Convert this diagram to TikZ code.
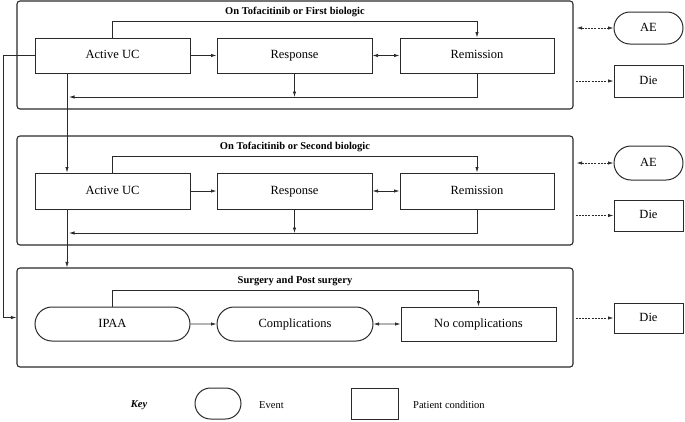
\documentclass[tikz,border=0pt]{standalone}
\usepackage{fontspec}
\setmainfont{Liberation Serif}
\usetikzlibrary{arrows.meta,shapes.misc}
\definecolor{ln}{HTML}{2a2a2a}
\tikzset{
  frame/.style={draw=ln,line width=1.1pt,rounded corners=3pt,inner sep=0pt},
  cond/.style={draw=ln,line width=1pt,inner sep=0pt,text height=8.8pt,text depth=2.8pt,font=\fontsize{12.5}{14}\selectfont},
  pill/.style={draw=ln,line width=1pt,rounded rectangle,rounded rectangle arc length=180,inner sep=0pt,text height=8.8pt,text depth=2.8pt,font=\fontsize{12.5}{14}\selectfont},
  ttl/.style={font=\fontsize{10.5}{12}\selectfont\bfseries,inner sep=0pt},
  tip/.style={-{Latex[length=5.5pt,width=3.4pt]}},
  ttip/.style={{Latex[length=5.5pt,width=3.4pt]}-{Latex[length=5.5pt,width=3.4pt]}},
  conn/.style={draw=ln,line width=0.75pt,tip},
  dconn/.style={conn,dash pattern=on 2pt off 1.2pt},
  keytxt/.style={font=\fontsize{10.5}{12}\selectfont,inner sep=0pt,anchor=west}
}
\begin{document}
\begin{tikzpicture}[x=1pt,y=-1pt]
\useasboundingbox (0,0) rectangle (685,421);
% frames
\node[frame,minimum width=556pt,minimum height=108pt] (box1) at (295,55) {};
\node[frame,minimum width=556pt,minimum height=109pt] (box2) at (295,190.5) {};
\node[frame,minimum width=556pt,minimum height=99pt] (box3) at (295,317.5) {};
\node[ttl] (t1) at (295,12) {On Tofacitinib or First biologic};
\node[ttl] (t2) at (295,147) {On Tofacitinib or Second biologic};
\node[ttl] (t3) at (295,281) {Surgery and Post surgery};
% row 1
\node[cond,minimum width=155pt,minimum height=35pt] (a1) at (112.5,55.5) {Active UC};
\node[cond,minimum width=155pt,minimum height=35pt] (r1) at (294.5,55.5) {Response};
\node[cond,minimum width=154pt,minimum height=35pt] (m1) at (477,55.5) {Remission};
% row 2
\node[cond,minimum width=155pt,minimum height=36pt] (a2) at (112.5,191) {Active UC};
\node[cond,minimum width=155pt,minimum height=36pt] (r2) at (294.5,191) {Response};
\node[cond,minimum width=154pt,minimum height=36pt] (m2) at (477,191) {Remission};
% row 3
\node[pill,minimum width=155pt,minimum height=34pt] (p3) at (112.5,324) {IPAA};
\node[pill,minimum width=156pt,minimum height=34pt] (c3) at (295,324) {Complications};
\node[cond,minimum width=155pt,minimum height=34pt] (n3) at (478.5,324) {No complications};
% side
\node[pill,minimum width=69pt,minimum height=32pt] (ae1) at (648.5,28) {AE};
\node[cond,minimum width=69pt,minimum height=32pt] (d1) at (648.5,81) {Die};
\node[pill,minimum width=69pt,minimum height=34pt] (ae2) at (648.5,163) {AE};
\node[cond,minimum width=69pt,minimum height=31pt] (d2) at (648.5,215.5) {Die};
\node[cond,minimum width=69pt,minimum height=30pt] (d3) at (648.5,318) {Die};
% coordinates
\coordinate (ret1) at (69,97);
\coordinate (ret2) at (69,233);
\coordinate (lft) at (3,317.5);
% row 1 connectors
\draw[conn] (a1.north) -- ++(0,-16) -| (m1.north);
\draw[conn] (a1) -- (r1);
\draw[conn,ttip] (r1) -- (m1);
\draw[conn] (r1.south) -- (r1.south |- ret1);
\draw[conn] (m1.south) |- (ret1);
\draw[conn] ([xshift=-45.5pt]a1.south) -- ([xshift=-45.5pt]a2.north);
\draw[conn] (a1.west) -| (lft) -- (box3.west);
% row 2 connectors
\draw[conn] (a2.north) -- ++(0,-16) -| (m2.north);
\draw[conn] (a2) -- (r2);
\draw[conn,ttip] (r2) -- (m2);
\draw[conn] (r2.south) -- (r2.south |- ret2);
\draw[conn] (m2.south) |- (ret2);
\draw[conn] ([xshift=-45.5pt]a2.south) -- ([xshift=-45.5pt]a2.south |- box3.north);
% row 3 connectors
\draw[conn] (p3.north) -- ++(0,-16) -| (n3.north);
\draw[conn] (p3) -- (c3);
\draw[conn,ttip] (c3) -- (n3);
% dashed side connectors
\draw[dconn,ttip,shorten <=3pt] (box1.east |- ae1.west) -- (ae1.west);
\draw[dconn,shorten <=2pt] (box1.east |- d1.west) -- (d1.west);
\draw[dconn,ttip,shorten <=3pt] (box2.east |- ae2.west) -- (ae2.west);
\draw[dconn,shorten <=2pt] (box2.east |- d2.west) -- (d2.west);
\draw[dconn,shorten <=2pt] (box3.east |- d3.west) -- (d3.west);
% key
\node[font=\fontsize{10.5}{12}\selectfont\bfseries\itshape,inner sep=0pt] (key) at (139,405) {Key};
\node[pill,minimum width=46pt,minimum height=31pt] (kev) at (218,403.5) {};
\node[keytxt] (kevt) at (259,405) {Event};
\node[cond,minimum width=47pt,minimum height=31pt] (kpc) at (374.5,403.5) {};
\node[keytxt] (kpct) at (413,405) {Patient condition};
\end{tikzpicture}
\end{document}
